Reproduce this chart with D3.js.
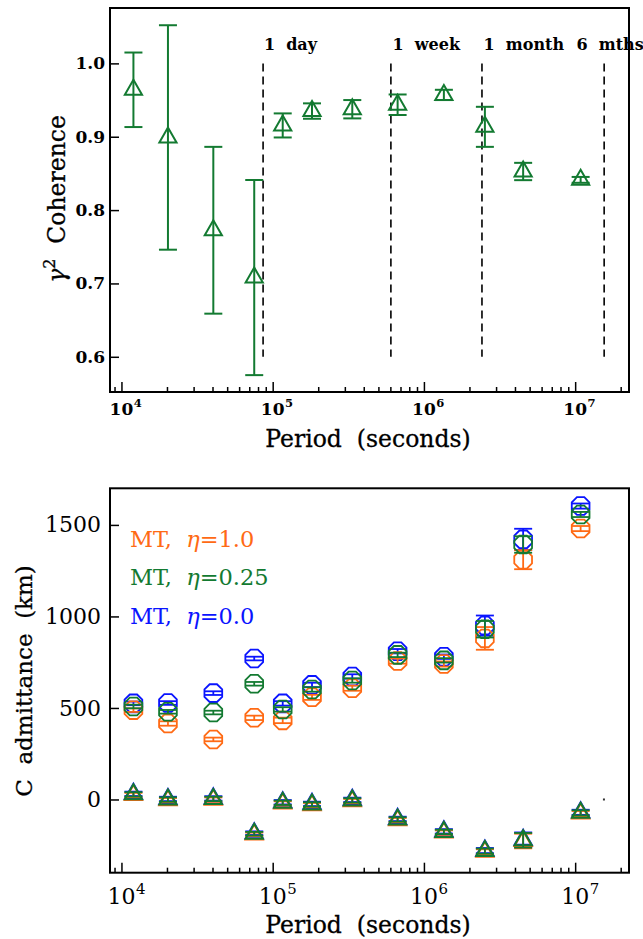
<!DOCTYPE html>
<html><head><meta charset="utf-8">
<script src="https://cdn.jsdelivr.net/npm/d3@7"></script>
<style>
html,body{margin:0;padding:0;background:#fff;}
svg{display:block;}
text{font-family:"DejaVu Serif","Liberation Serif",serif;}
</style></head><body>
<svg id="chart" width="643" height="939"></svg>
<script>
// ---------------- DATA ----------------
const periods = [1.2e4, 2.03e4, 4.05e4, 7.55e4, 1.165e5, 1.82e5, 3.36e5, 6.7e5, 1.355e6, 2.53e6, 4.53e6, 1.087e7];

// top panel: gamma^2 coherence
const coherence    = [0.964, 0.899, 0.7725, 0.708, 0.9154, 0.935, 0.9375, 0.9436, 0.957, 0.9135, 0.8526, 0.8412];
const coherenceErr = [0.0508, 0.153, 0.1137, 0.133, 0.0164, 0.0105, 0.0125, 0.014, 0.007, 0.0273, 0.0118, 0.004];

// vertical reference periods
const markPeriods = [86400, 604800, 2.42e6, 1.555e7];
const markLabels  = ["1  day", "1  week", "1  month", "6  mths"];
const markLabelAt = [87500, 6.2e5, 2.48e6, 1.02e7];

// bottom panel: C admittance (km), real part (octagons)
const reEta10     = [488, 415, 328, 446, 432, 558, 608, 756, 740, 880, 1310, 1480];
const reEta10Err  = [10, 12, 10, 12, 15, 14, 14, 14, 14, 62, 52, 14];
const reEta025    = [508, 479, 475, 632, 492, 601, 650, 790, 760, 930, 1393, 1557];
const reEta025Err = [10, 10, 10, 10, 12, 12, 12, 12, 12, 45, 45, 14];
const reEta00     = [525, 527, 581, 770, 525, 626, 672, 810, 780, 950, 1421, 1603];
const reEta00Err  = [10, 10, 10, 10, 12, 12, 12, 12, 12, 55, 58, 14];

// imaginary part (triangles)
const imEta10     = [24, -4, -1, -191, -22, -31, -9, -113, -181, -286, -227, -77];
const imEta10Err  = [12, 12, 12, 10, 12, 12, 12, 12, 12, 14, 40, 14];
const imEta025    = [28, 0, 3, -187, -18, -27, -5, -109, -177, -282, -223, -73];
const imEta025Err = [12, 12, 12, 10, 12, 12, 12, 12, 12, 14, 40, 14];
const imEta00     = [31, 3, 6, -184, -15, -24, -2, -106, -174, -279, -220, -70];
const imEta00Err  = [12, 12, 12, 10, 12, 12, 12, 12, 12, 14, 40, 14];

const strayPoint = [[1.55e7, 0]];

const legendLabels = ["MT,  ", "MT,  ", "MT,  "];
const legendEta    = ["1.0", "0.25", "0.0"];

const topYTicks = [0.6, 0.7, 0.8, 0.9, 1.0];
const botYTicks = [0, 500, 1000, 1500];
const xMajor = [1e4, 1e5, 1e6, 1e7];
const xExp   = ["4", "5", "6", "7"];

// ---------------- STYLE ----------------
const GREEN = "#137a31", ORANGE = "#ff6a14", BLUE = "#0a14ff";

const svg = d3.select("#chart");
const L = 110, R = 629;

const x = d3.scaleLog().domain([8400, 2.27e7]).range([L, R]);
const yTop = d3.scaleLinear().domain([0.552, 1.0755]).range([392, 8]);
const yBot = d3.scaleLinear().domain([-400, 1700]).range([872.7, 488.3]);

const xMinor = [];
for (let e = 3; e <= 7; e++) for (let m = 2; m <= 9; m++) {
  const v = m * Math.pow(10, e);
  if (v > 8400 && v < 2.27e7) xMinor.push(v);
}

function triPath() { return "M0,-10 L8.6,5 L-8.6,5 Z"; }
function octPath(r) {
  const pts = d3.range(8).map(k => {
    const a = (22.5 + 45 * k) * Math.PI / 180;
    return [r * Math.cos(a), r * Math.sin(a)];
  });
  return "M" + pts.map(p => p[0].toFixed(2) + "," + p[1].toFixed(2)).join("L") + "Z";
}

function panelAxes(g, y, top, bottom, yTicks, yFmt, boldTicks, labelSize, xLabelY, yPad) {
  g.append("rect").attr("x", L).attr("y", top).attr("width", R - L).attr("height", bottom - top)
    .attr("fill", "none").attr("stroke", "#000").attr("stroke-width", 2);
  const gxm = g.append("g").attr("transform", `translate(0,${bottom})`)
    .call(d3.axisBottom(x).tickValues(xMinor).tickSize(-5).tickFormat(() => ""));
  gxm.select(".domain").remove();
  gxm.selectAll("line").attr("stroke", "#000").attr("stroke-width", 1.5);
  const gx = g.append("g").attr("transform", `translate(0,${bottom})`)
    .call(d3.axisBottom(x).tickValues(xMajor).tickSize(-10).tickFormat(() => ""));
  gx.select(".domain").remove();
  gx.selectAll("line").attr("stroke", "#000").attr("stroke-width", 1.5);
  xMajor.forEach((v, i) => {
    const t = g.append("text").attr("x", x(v)).attr("y", xLabelY)
      .attr("text-anchor", "middle").attr("font-size", labelSize)
      .attr("font-weight", boldTicks ? "bold" : "normal").text("10");
    const w = t.node().getComputedTextLength();
    g.append("text").attr("x", x(v) + w / 2 + 0.5).attr("y", xLabelY - labelSize * 0.45)
      .attr("font-size", labelSize * 0.68).attr("font-weight", boldTicks ? "bold" : "normal").text(xExp[i]);
  });
  const gy = g.append("g").attr("transform", `translate(${L},0)`)
    .call(d3.axisLeft(y).tickValues(yTicks).tickSize(-9).tickPadding(yPad).tickFormat(yFmt));
  gy.select(".domain").remove();
  gy.selectAll("line").attr("stroke", "#000").attr("stroke-width", 1.5);
  gy.selectAll("text").attr("font-family", '"DejaVu Serif", serif')
    .attr("font-size", labelSize).attr("font-weight", boldTicks ? "bold" : "normal").attr("fill", "#000");
}

function errorBars(g, xs, vals, errs, y, color, sw) {
  const gg = g.append("g").attr("stroke", color).attr("stroke-width", sw).attr("fill", "none");
  xs.forEach((p, i) => {
    const cx = x(p), y1 = y(vals[i] - errs[i]), y2 = y(vals[i] + errs[i]);
    gg.append("line").attr("x1", cx).attr("x2", cx).attr("y1", y1).attr("y2", y2);
    gg.append("line").attr("x1", cx - 9).attr("x2", cx + 9).attr("y1", y1).attr("y2", y1);
    gg.append("line").attr("x1", cx - 9).attr("x2", cx + 9).attr("y1", y2).attr("y2", y2);
  });
}
function symbols(g, xs, vals, y, color, path, sw) {
  g.append("g").selectAll("path").data(vals).join("path")
    .attr("transform", (d, i) => `translate(${x(xs[i])},${y(d)})`)
    .attr("d", path).attr("fill", "none").attr("stroke", color).attr("stroke-width", sw);
}

// ---------------- TOP PANEL ----------------
const gt = svg.append("g");
panelAxes(gt, yTop, 8, 392, topYTicks, d3.format(".1f"), true, 17, 415, 5);

gt.append("g").selectAll("line").data(markPeriods).join("line")
  .attr("x1", d => x(d)).attr("x2", d => x(d))
  .attr("y1", yTop(1.0)).attr("y2", yTop(0.6))
  .attr("stroke", "#000").attr("stroke-width", 1.6).attr("stroke-dasharray", "8,5");
gt.append("g").selectAll("text").data(markLabels).join("text")
  .attr("x", (d, i) => x(markLabelAt[i])).attr("y", 50)
  .attr("font-size", 16).attr("font-weight", "bold")
  .style("white-space", "pre").text(d => d);

errorBars(gt, periods, coherence, coherenceErr, yTop, GREEN, 2);
symbols(gt, periods, coherence, yTop, GREEN, triPath(), 2);

gt.append("text").attr("x", 368).attr("y", 447).attr("text-anchor", "middle")
  .attr("font-size", 23.5).attr("stroke", "#000").attr("stroke-width", 0.3)
  .style("white-space", "pre").text("Period  (seconds)");
const ty = gt.append("text").attr("transform", "translate(65,199) rotate(-90)")
  .attr("text-anchor", "middle").attr("font-size", 23.5).attr("stroke", "#000").attr("stroke-width", 0.3)
  .style("white-space", "pre");
ty.append("tspan").attr("font-style", "italic").text("γ");
ty.append("tspan").attr("font-size", 16).attr("dy", -10).text("2");
ty.append("tspan").attr("dy", 10).text("  Coherence");

// ---------------- BOTTOM PANEL ----------------
const gb = svg.append("g");
panelAxes(gb, yBot, 488.3, 872.7, botYTicks, d3.format("d"), false, 22, 904, 9);

const series = [
  {re: reEta00, reE: reEta00Err, im: imEta00, imE: imEta00Err, c: BLUE},
  {re: reEta10, reE: reEta10Err, im: imEta10, imE: imEta10Err, c: ORANGE},
  {re: reEta025, reE: reEta025Err, im: imEta025, imE: imEta025Err, c: GREEN}
];
series.forEach(s => {
  errorBars(gb, periods, s.re, s.reE, yBot, s.c, 1.8);
  symbols(gb, periods, s.re, yBot, s.c, octPath(9.6), 1.8);
  errorBars(gb, periods, s.im, s.imE, yBot, s.c, 1.8);
  symbols(gb, periods, s.im, yBot, s.c, triPath(), 2);
});
gb.append("g").selectAll("rect").data(strayPoint).join("rect")
  .attr("x", d => x(d[0]) - 1).attr("y", d => yBot(d[1]) - 1).attr("width", 2).attr("height", 2)
  .attr("fill", "#333");

const legColors = [ORANGE, GREEN, BLUE];
legendLabels.forEach((lab, i) => {
  const t = gb.append("text").attr("x", 130).attr("y", 547 + i * 38.3)
    .attr("font-size", 22.5).attr("fill", legColors[i]).style("white-space", "pre");
  t.append("tspan").text(lab);
  t.append("tspan").attr("font-style", "italic").text("η");
  t.append("tspan").text("=" + legendEta[i]);
});

gb.append("text").attr("x", 368).attr("y", 933).attr("text-anchor", "middle")
  .attr("font-size", 23.5).attr("stroke", "#000").attr("stroke-width", 0.3)
  .style("white-space", "pre").text("Period  (seconds)");
gb.append("text").attr("transform", "translate(32,681) rotate(-90)")
  .attr("text-anchor", "middle").attr("font-size", 23).attr("stroke", "#000").attr("stroke-width", 0.3)
  .style("white-space", "pre")
  .text("C  admittance  (km)");
</script>
</body></html>
